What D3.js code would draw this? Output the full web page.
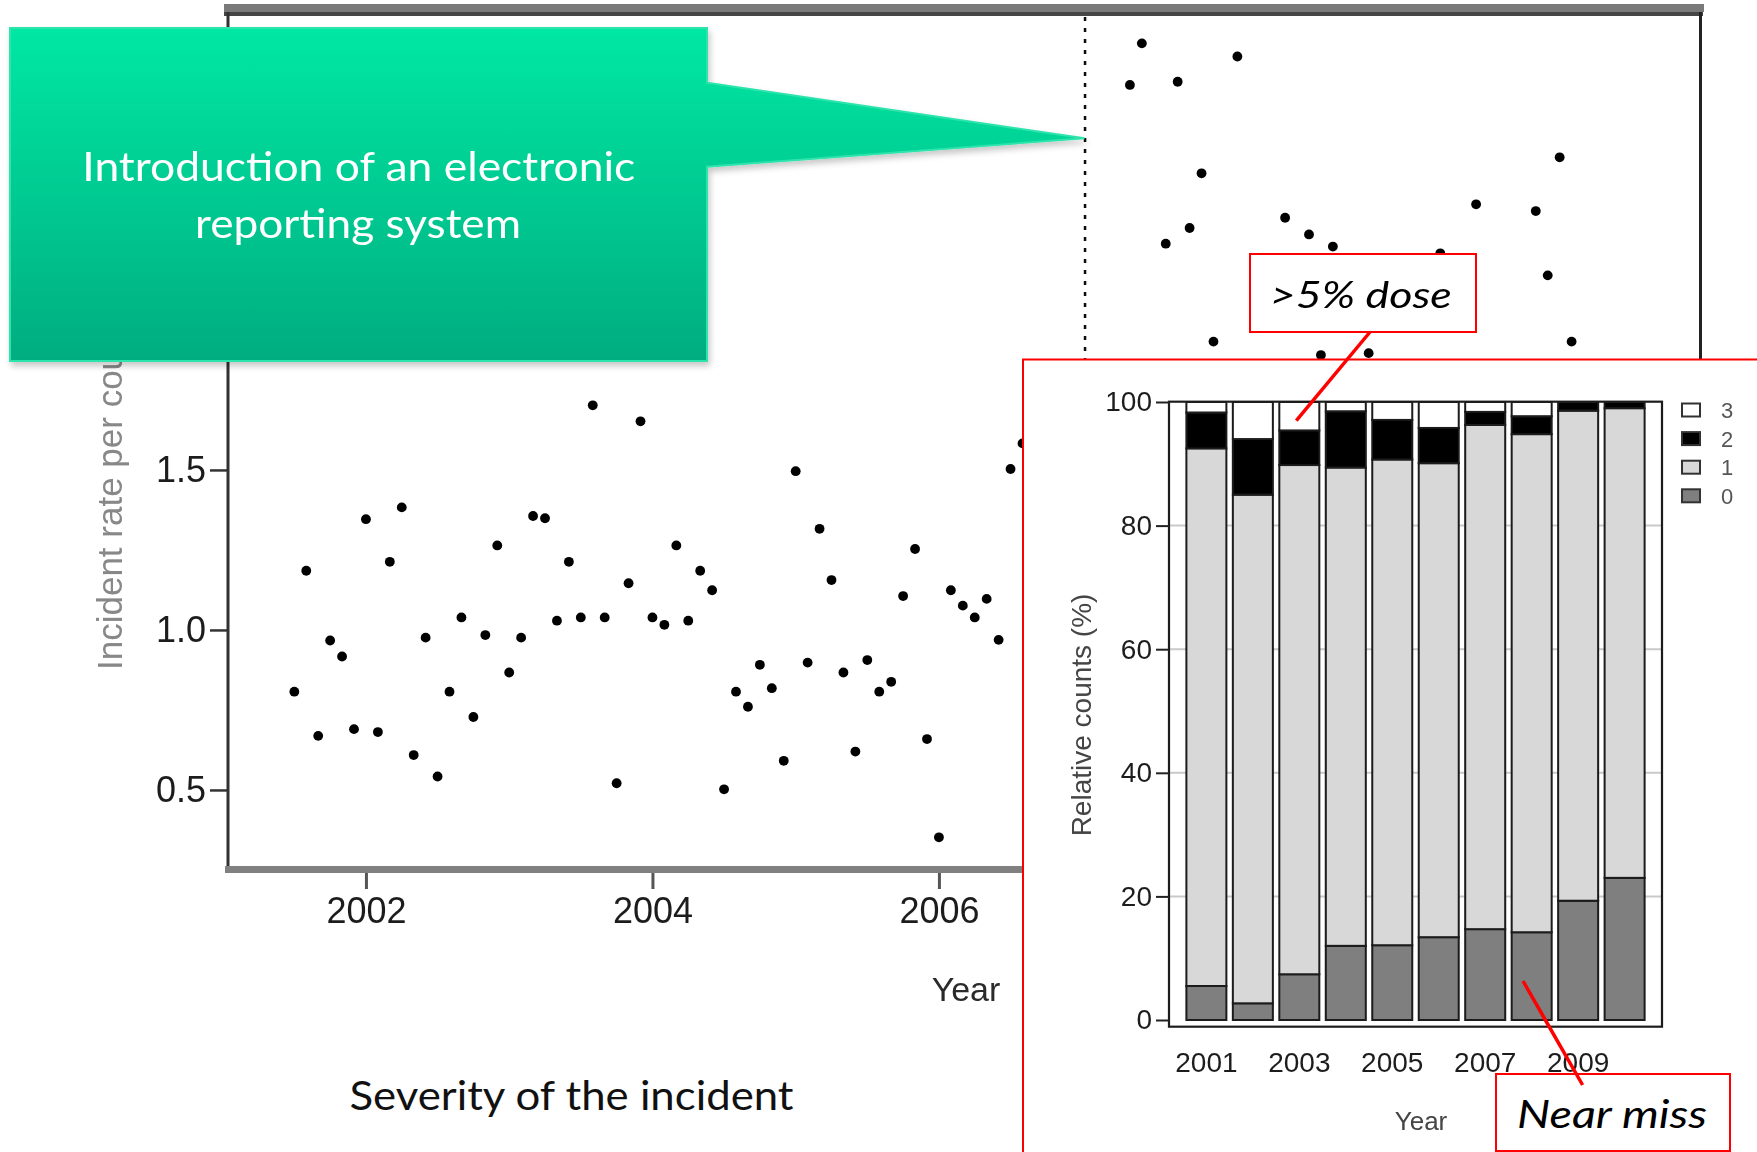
<!DOCTYPE html>
<html>
<head>
<meta charset="utf-8">
<script src="https://cdn.jsdelivr.net/npm/d3@7"></script>
<style>
  html, body { margin: 0; padding: 0; background: #ffffff; }
  svg { display: block; }
</style>
</head>
<body>
<svg id="fig" width="1757" height="1152"></svg>
<script>
// ---- Monthly incident rate (first value = July 2001, null = month hidden behind the inset) ----
const rateStartYear = 2001;
const rateStartMonth = 7;
const monthlyRates = [
  0.807, 1.185, 0.669, 0.967, 0.917, 0.690,                               // 2001 Jul-Dec
  1.346, 0.681, 1.213, 1.383, 0.609, 0.976, 0.542, 0.807, 1.039, 0.728, 0.984, 1.264, // 2002
  0.867, 0.976, 1.356, 1.349, 1.029, 1.213, 1.039, 1.702, 1.039, 0.521, 1.146, 1.652, // 2003
  1.039, 1.016, 1.264, 1.029, 1.185, 1.124, 0.502, 0.807, 0.760, 0.891, 0.818, 0.591, // 2004
  1.496, 0.898, 1.316, 1.156, 0.867, 0.620, 0.906, 0.807, 0.838, 1.106, 1.253, 0.659, // 2005
  0.352, 1.124, 1.076, 1.039, 1.097, 0.969, 1.503, 1.583, null, null, null, null,      // 2006
  null, null, null, null, 2.703, 2.833, null, 2.207, 2.713, 2.256, 2.427, 1.901,      // 2007
  null, 2.792, null, null, null, 2.288, null, 2.236, 1.859, 2.198, null, null,        // 2008
  1.865, null, null, null, null, null, 2.177, null, null, 2.330, null, null,          // 2009
  null, null, 2.309, 2.108, 2.477, 1.901                                              // 2010
];
const rateXTicks = [2002, 2004, 2006, 2008, 2010];
const rateYTicks = [0.5, 1.0, 1.5, 2.0];
const reportingIntroduced = 2007.02;

// ---- Severity of reported incidents per year (relative counts, %) ----
const severityYears = [2001, 2002, 2003, 2004, 2005, 2006, 2007, 2008, 2009, 2010];
const severityLevels = ["0", "1", "2", "3"];
const severity0 = [5.5, 2.7, 7.4, 12.0, 12.1, 13.4, 14.7, 14.2, 19.3, 23.0];
const severity1 = [87.0, 82.3, 82.4, 77.4, 78.6, 76.7, 81.6, 80.6, 79.3, 76.0];
const severity2 = [5.8, 9.0, 5.6, 9.1, 6.4, 5.7, 2.1, 2.9, 1.4, 1.0];
const severity3 = [1.7, 6.0, 4.6, 1.5, 2.9, 4.2, 1.6, 2.3, 0.0, 0.0];
const severityYTicks = [0, 20, 40, 60, 80, 100];
const severityXLabels = [2001, 2003, 2005, 2007, 2009];
const severityColors = ["#7f7f7f", "#d8d8d8", "#000000", "#ffffff"];

const svg = d3.select("#fig");
const defs = svg.append("defs");
defs.append("filter").attr("id", "soft")
  .append("feGaussianBlur").attr("stdDeviation", 0.55);
const shadow = defs.append("filter").attr("id", "shadow")
  .attr("x", "-5%").attr("y", "-5%").attr("width", "115%").attr("height", "120%");
shadow.append("feDropShadow").attr("dx", 2).attr("dy", 4).attr("stdDeviation", 3)
  .attr("flood-color", "#000").attr("flood-opacity", 0.22);
const grad = defs.append("linearGradient").attr("id", "calloutFill")
  .attr("gradientUnits", "userSpaceOnUse").attr("x1", 0).attr("y1", 28).attr("x2", 0).attr("y2", 361);
grad.append("stop").attr("offset", "0%").attr("stop-color", "#00e8a3");
grad.append("stop").attr("offset", "100%").attr("stop-color", "#00ad80");

const chartFont = "'Liberation Sans', Arial, sans-serif";
const noteFont = "Lato, 'Open Sans', sans-serif";

// ================= Incident rate scatter =================
const xRate = d3.scaleLinear().domain([2001.03, 2011.32]).range([227, 1701]);
const yRate = d3.scaleLinear().domain([0.253, 2.931]).range([869, 12]);

const scatter = svg.append("g").attr("filter", "url(#soft)");

// frame: grey top band, right border, left axis, grey bottom band
scatter.append("rect").attr("x", 224).attr("y", 4).attr("width", 1480).attr("height", 8).attr("fill", "#7a7a7a");
scatter.append("line").attr("x1", 224).attr("x2", 1703).attr("y1", 14).attr("y2", 14)
  .attr("stroke", "#454545").attr("stroke-width", 4);
scatter.append("line").attr("x1", 1700.5).attr("x2", 1700.5).attr("y1", 12).attr("y2", 869)
  .attr("stroke", "#222").attr("stroke-width", 3);
scatter.append("line").attr("x1", 228).attr("x2", 228).attr("y1", 12).attr("y2", 870)
  .attr("stroke", "#333").attr("stroke-width", 3);
scatter.append("line").attr("x1", 225).attr("x2", 1701).attr("y1", 869.5).attr("y2", 869.5)
  .attr("stroke", "#808080").attr("stroke-width", 7);

// dotted marker for the introduction of electronic reporting
scatter.append("line")
  .attr("x1", xRate(reportingIntroduced)).attr("x2", xRate(reportingIntroduced))
  .attr("y1", 17).attr("y2", 866)
  .attr("stroke", "#111").attr("stroke-width", 2.5).attr("stroke-dasharray", "4,7");

const ratePoints = monthlyRates
  .map((v, i) => ({ t: rateStartYear + (rateStartMonth - 1 + i) / 12, v: v }))
  .filter(d => d.v !== null);

scatter.append("g").selectAll("circle").data(ratePoints).join("circle")
  .attr("cx", d => xRate(d.t)).attr("cy", d => yRate(d.v)).attr("r", 4.9).attr("fill", "#000");

const xAxisRate = scatter.append("g").attr("transform", "translate(0,873)")
  .call(d3.axisBottom(xRate).tickValues(rateXTicks).tickFormat(d3.format("d")).tickSize(16).tickPadding(8));
xAxisRate.select(".domain").remove();
xAxisRate.selectAll(".tick line").attr("stroke", "#555").attr("stroke-width", 3);
xAxisRate.selectAll(".tick text").attr("font-family", chartFont).attr("font-size", 36).attr("fill", "#1e1e1e");

const yAxisRate = scatter.append("g").attr("transform", "translate(227,0)")
  .call(d3.axisLeft(yRate).tickValues(rateYTicks).tickFormat(d3.format(".1f")).tickSize(17).tickPadding(4));
yAxisRate.select(".domain").remove();
yAxisRate.selectAll(".tick line").attr("stroke", "#333").attr("stroke-width", 2.5);
yAxisRate.selectAll(".tick text").attr("font-family", chartFont).attr("font-size", 36).attr("fill", "#1e1e1e");

scatter.append("text").attr("x", 966).attr("y", 1001).attr("text-anchor", "middle")
  .attr("font-family", chartFont).attr("font-size", 34).attr("fill", "#2a2a2a").text("Year");
scatter.append("text").attr("transform", "translate(122,670) rotate(-90)").attr("text-anchor", "start")
  .attr("font-family", chartFont).attr("font-size", 35).attr("fill", "#888")
  .text("Incident rate per course");

// caption under the left chart
svg.append("text").attr("x", 571.5).attr("y", 1110).attr("text-anchor", "middle")
  .attr("font-family", noteFont).attr("font-size", 41).attr("fill", "#111")
  .attr("textLength", 444).attr("lengthAdjust", "spacingAndGlyphs")
  .text("Severity of the incident");

// ================= Green callout =================
const callout = svg.append("g");
callout.append("path")
  .attr("d", "M10,28 H707 V82.7 L1084.5,138.3 L707,166.7 V361 H10 Z")
  .attr("fill", "url(#calloutFill)").attr("stroke", "#2fe4ad").attr("stroke-width", 2)
  .attr("filter", "url(#shadow)");
callout.append("text").attr("x", 358.8).attr("y", 181).attr("text-anchor", "middle")
  .attr("font-family", noteFont).attr("font-size", 40).attr("fill", "#fff")
  .attr("textLength", 553).attr("lengthAdjust", "spacingAndGlyphs")
  .text("Introduction of an electronic");
callout.append("text").attr("x", 358).attr("y", 238).attr("text-anchor", "middle")
  .attr("font-family", noteFont).attr("font-size", 40).attr("fill", "#fff")
  .attr("textLength", 326).attr("lengthAdjust", "spacingAndGlyphs")
  .text("reporting system");

// ================= ">5% dose" label =================
svg.append("rect").attr("x", 1250).attr("y", 254).attr("width", 226).attr("height", 78)
  .attr("fill", "#fff").attr("stroke", "#ff0000").attr("stroke-width", 2);
svg.append("text").attr("x", 1360.8).attr("y", 308).attr("text-anchor", "middle")
  .attr("font-family", noteFont).attr("font-style", "italic").attr("font-size", 37).attr("fill", "#000")
  .attr("textLength", 182).attr("lengthAdjust", "spacingAndGlyphs")
  .text(">5% dose");

// ================= Severity inset (stacked bars) =================
svg.append("rect").attr("x", 1023).attr("y", 359.5).attr("width", 800).attr("height", 900)
  .attr("fill", "#fff").attr("stroke", "#ff0000").attr("stroke-width", 2);

const bars = svg.append("g").attr("filter", "url(#soft)");
const xSev = d3.scaleBand().domain(severityYears).range([1169, 1662]).paddingInner(0.139).paddingOuter(0.374);
const ySev = d3.scaleLinear().domain([0, 100]).range([1020, 402]);

// light grid
bars.append("g").selectAll("line").data(severityYTicks.filter(v => v > 0 && v < 100)).join("line")
  .attr("x1", 1169).attr("x2", 1662).attr("y1", d => ySev(d)).attr("y2", d => ySev(d))
  .attr("stroke", "#c9c9c9").attr("stroke-width", 2);

const sevRows = severityYears.map((yr, i) => ({
  year: yr, "0": severity0[i], "1": severity1[i], "2": severity2[i], "3": severity3[i]
}));
const stacked = d3.stack().keys(severityLevels)(sevRows);

bars.append("g").selectAll("g").data(stacked).join("g")
  .attr("fill", (d, i) => severityColors[i])
  .selectAll("rect").data(d => d.filter(s => s[1] - s[0] > 0)).join("rect")
  .attr("x", d => xSev(d.data.year)).attr("width", xSev.bandwidth())
  .attr("y", d => ySev(d[1])).attr("height", d => ySev(d[0]) - ySev(d[1]))
  .attr("stroke", "#1a1a1a").attr("stroke-width", 2);

// plot frame
bars.append("rect").attr("x", 1169).attr("y", 401.7).attr("width", 493).attr("height", 625)
  .attr("fill", "none").attr("stroke", "#1e1e1e").attr("stroke-width", 2.2);

const yAxisSev = bars.append("g").attr("transform", "translate(1169,0)")
  .call(d3.axisLeft(ySev).tickValues(severityYTicks).tickSize(13).tickPadding(4));
yAxisSev.select(".domain").remove();
yAxisSev.selectAll(".tick line").attr("stroke", "#222").attr("stroke-width", 2);
yAxisSev.selectAll(".tick text").attr("font-family", chartFont).attr("font-size", 28).attr("fill", "#1e1e1e");

const xAxisSev = bars.append("g").attr("transform", "translate(0,1026.7)")
  .call(d3.axisBottom(xSev).tickValues(severityXLabels).tickSize(0).tickPadding(25));
xAxisSev.select(".domain").remove();
xAxisSev.selectAll(".tick text").attr("font-family", chartFont).attr("font-size", 28).attr("fill", "#1e1e1e");

bars.append("text").attr("transform", "translate(1091,715) rotate(-90)").attr("text-anchor", "middle")
  .attr("font-family", chartFont).attr("font-size", 28).attr("fill", "#444")
  .text("Relative counts (%)");
bars.append("text").attr("x", 1421).attr("y", 1130).attr("text-anchor", "middle")
  .attr("font-family", chartFont).attr("font-size", 26).attr("fill", "#444")
  .text("Year");

// legend, top level first
const legendOrder = severityLevels.slice().reverse();
const legend = bars.append("g").selectAll("g").data(legendOrder).join("g")
  .attr("transform", (d, i) => `translate(1682,${410 + i * 28.6})`);
legend.append("rect").attr("x", 0).attr("y", -6.5).attr("width", 18).attr("height", 13)
  .attr("fill", d => severityColors[severityLevels.indexOf(d)])
  .attr("stroke", "#333").attr("stroke-width", 2);
legend.append("text").attr("x", 45).attr("y", 0).attr("dy", "0.36em").attr("text-anchor", "middle")
  .attr("font-family", chartFont).attr("font-size", 22).attr("fill", "#555")
  .text(d => d);

// pointer from the ">5% dose" label into the bars
svg.append("line").attr("x1", 1370).attr("y1", 332).attr("x2", 1296.3).attr("y2", 420.7)
  .attr("stroke", "#ff0000").attr("stroke-width", 3.5);

// ================= "Near miss" label =================
svg.append("rect").attr("x", 1496).attr("y", 1074).attr("width", 234).attr("height", 77)
  .attr("fill", "#fff").attr("stroke", "#ff0000").attr("stroke-width", 2);
svg.append("text").attr("x", 1612).attr("y", 1128).attr("text-anchor", "middle")
  .attr("font-family", noteFont).attr("font-style", "italic").attr("font-size", 39).attr("fill", "#000")
  .attr("textLength", 190).attr("lengthAdjust", "spacingAndGlyphs")
  .text("Near miss");
svg.append("line").attr("x1", 1582.6).attr("y1", 1085).attr("x2", 1523).attr("y2", 981)
  .attr("stroke", "#ff0000").attr("stroke-width", 3.5);
</script>
</body>
</html>
